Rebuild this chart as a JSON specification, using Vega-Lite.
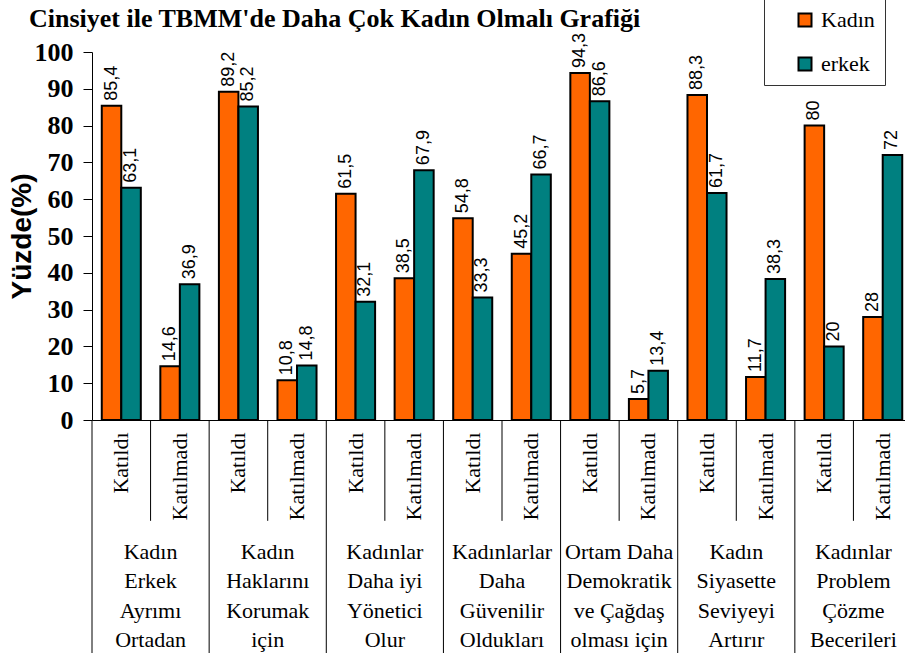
{
  "$schema": "https://vega.github.io/schema/vega-lite/v6.json",
  "width": 813,
  "height": 368,
  "autosize": "none",
  "padding": {"left": 92, "top": 52, "right": 0, "bottom": 233},
  "background": "white",
  "config": {
    "view": {"stroke": null},
    "locale": {"number": {"decimal": ",", "thousands": ".", "grouping": [3], "currency": ["", " TL"]}},
    "axisX": {
      "title": null,
      "labelExpr": "split(datum.value, '|')[1]",
      "labelAngle": 270, "labelAlign": "right", "labelBaseline": "middle",
      "labelPadding": 12, "labelFont": "Times New Roman, Liberation Serif, DejaVu Serif, serif", "labelFontSize": 22,
      "labelColor": "black", "ticks": false, "domainColor": "black",
      "labelOverlap": false, "labelLimit": 0
    },
    "axisY": {
      "tickCount": 10,
      "titleFont": "Liberation Sans, Arial, sans-serif", "titleFontSize": 28,
      "titleFontWeight": "bold", "titleColor": "black", "titleAngle": 270,
      "titleX": -70, "titleY": 184, "titleAlign": "center", "titleBaseline": "middle",
      "labelFont": "Times New Roman, Liberation Serif, DejaVu Serif, serif", "labelFontSize": 26, "labelFontWeight": "bold",
      "labelColor": "black", "labelPadding": 10, "tickSize": 9, "tickColor": "black",
      "domainColor": "black", "grid": false, "labelFlush": false, "labelOverlap": false
    }
  },
  "title": {
    "text": "Cinsiyet ile  TBMM'de Daha Çok Kadın Olmalı Grafiği",
    "anchor": "start",
    "frame": "group",
    "font": "Times New Roman, Liberation Serif, DejaVu Serif, serif",
    "fontSize": 26,
    "fontWeight": "bold",
    "color": "black",
    "baseline": "alphabetic",
    "dx": -63,
    "offset": 0,
    "dy": 54
  },
  "datasets": {
    "bars": [
      {"q": "G1", "r": "Katıldı", "g": "Kadın", "v": 85.4},
      {"q": "G1", "r": "Katıldı", "g": "erkek", "v": 63.1},
      {"q": "G1", "r": "Katılmadı", "g": "Kadın", "v": 14.6},
      {"q": "G1", "r": "Katılmadı", "g": "erkek", "v": 36.9},
      {"q": "G2", "r": "Katıldı", "g": "Kadın", "v": 89.2},
      {"q": "G2", "r": "Katıldı", "g": "erkek", "v": 85.2},
      {"q": "G2", "r": "Katılmadı", "g": "Kadın", "v": 10.8},
      {"q": "G2", "r": "Katılmadı", "g": "erkek", "v": 14.8},
      {"q": "G3", "r": "Katıldı", "g": "Kadın", "v": 61.5},
      {"q": "G3", "r": "Katıldı", "g": "erkek", "v": 32.1},
      {"q": "G3", "r": "Katılmadı", "g": "Kadın", "v": 38.5},
      {"q": "G3", "r": "Katılmadı", "g": "erkek", "v": 67.9},
      {"q": "G4", "r": "Katıldı", "g": "Kadın", "v": 54.8},
      {"q": "G4", "r": "Katıldı", "g": "erkek", "v": 33.3},
      {"q": "G4", "r": "Katılmadı", "g": "Kadın", "v": 45.2},
      {"q": "G4", "r": "Katılmadı", "g": "erkek", "v": 66.7},
      {"q": "G5", "r": "Katıldı", "g": "Kadın", "v": 94.3},
      {"q": "G5", "r": "Katıldı", "g": "erkek", "v": 86.6},
      {"q": "G5", "r": "Katılmadı", "g": "Kadın", "v": 5.7},
      {"q": "G5", "r": "Katılmadı", "g": "erkek", "v": 13.4},
      {"q": "G6", "r": "Katıldı", "g": "Kadın", "v": 88.3},
      {"q": "G6", "r": "Katıldı", "g": "erkek", "v": 61.7},
      {"q": "G6", "r": "Katılmadı", "g": "Kadın", "v": 11.7},
      {"q": "G6", "r": "Katılmadı", "g": "erkek", "v": 38.3},
      {"q": "G7", "r": "Katıldı", "g": "Kadın", "v": 80},
      {"q": "G7", "r": "Katıldı", "g": "erkek", "v": 20},
      {"q": "G7", "r": "Katılmadı", "g": "Kadın", "v": 28},
      {"q": "G7", "r": "Katılmadı", "g": "erkek", "v": 72}
    ],
    "groups": [
      {"q": "G1", "label": "Kadın\nErkek\nAyrımı\nOrtadan"},
      {"q": "G2", "label": "Kadın\nHaklarını\nKorumak\niçin"},
      {"q": "G3", "label": "Kadınlar\nDaha iyi\nYönetici\nOlur"},
      {"q": "G4", "label": "Kadınlarlar\nDaha\nGüvenilir\nOldukları"},
      {"q": "G5", "label": "Ortam Daha\nDemokratik\nve Çağdaş\nolması için"},
      {"q": "G6", "label": "Kadın\nSiyasette\nSeviyeyi\nArtırır"},
      {"q": "G7", "label": "Kadınlar\nProblem\nÇözme\nBecerileri"}
    ]
  },
  "layer": [
    {
      "data": {"name": "bars"},
      "transform": [{"calculate": "datum.q + '|' + datum.r", "as": "key"}],
      "mark": {"type": "bar", "stroke": "black", "strokeWidth": 2},
      "encoding": {
        "x": {
          "field": "key", "type": "nominal", "sort": null,
          "scale": {"range": [0, 820], "paddingInner": 0, "paddingOuter": 0},
          "axis": {"title": null}
        },
        "xOffset": {"field": "g", "type": "nominal", "sort": ["Kadın", "erkek"], "scale": {"paddingInner": 0, "paddingOuter": 0.5}},
        "y": {
          "field": "v", "type": "quantitative",
          "scale": {"domain": [0, 100], "nice": false},
          "axis": {"title": "Yüzde(%)"}
        },
        "color": {
          "field": "g", "type": "nominal", "sort": ["Kadın", "erkek"],
          "scale": {"range": ["#FF6600", "#008080"]},
          "legend": {
            "title": null, "orient": "none", "legendX": 672, "legendY": -53,
            "direction": "vertical", "strokeColor": "#333333", "fillColor": "white",
            "padding": 10, "symbolType": "square", "symbolSize": 169,
            "symbolStrokeColor": "black", "symbolStrokeWidth": 2, "symbolOffset": 20,
            "labelFont": "Times New Roman, Liberation Serif, DejaVu Serif, serif", "labelFontSize": 22, "labelColor": "black",
            "labelOffset": 5, "rowPadding": 22, "labelLimit": 0,
            "labelExpr": "datum.label + '          '"
          }
        }
      }
    },
    {
      "data": {"name": "bars"},
      "transform": [{"calculate": "datum.q + '|' + datum.r", "as": "key"}],
      "mark": {"type": "text", "angle": 270, "align": "left", "baseline": "middle", "dx": 5, "font": "Liberation Sans, Arial, sans-serif", "fontSize": 18, "color": "black"},
      "encoding": {
        "x": {"field": "key", "type": "nominal", "sort": null},
        "xOffset": {"field": "g", "type": "nominal", "sort": ["Kadın", "erkek"]},
        "y": {"field": "v", "type": "quantitative"},
        "text": {"field": "v", "type": "quantitative", "format": ".1~f"}
      }
    },
    {
      "data": {"name": "groups"},
      "transform": [{"calculate": "datum.q + '|Katıldı'", "as": "key"}],
      "mark": {"type": "rule", "stroke": "black", "strokeWidth": 1},
      "encoding": {
        "x": {"field": "key", "type": "nominal", "sort": null, "bandPosition": 0},
        "y": {"datum": 0},
        "y2": {"datum": -63.4}
      }
    },
    {
      "data": {"name": "groups"},
      "transform": [{"calculate": "datum.q + '|Katılmadı'", "as": "key"}],
      "mark": {"type": "rule", "stroke": "black", "strokeWidth": 1},
      "encoding": {
        "x": {"field": "key", "type": "nominal", "sort": null, "bandPosition": 0},
        "y": {"datum": 0},
        "y2": {"datum": -27.4}
      }
    },
    {
      "data": {"name": "groups"},
      "transform": [{"calculate": "datum.q + '|Katılmadı'", "as": "key"}],
      "mark": {"type": "text", "font": "Times New Roman, Liberation Serif, DejaVu Serif, serif", "fontSize": 22, "lineBreak": "\n", "lineHeight": 29.3, "align": "center", "baseline": "alphabetic", "color": "black"},
      "encoding": {
        "x": {"field": "key", "type": "nominal", "sort": null, "bandPosition": 0},
        "y": {"datum": -37.8},
        "text": {"field": "label"}
      }
    }
  ]
}
